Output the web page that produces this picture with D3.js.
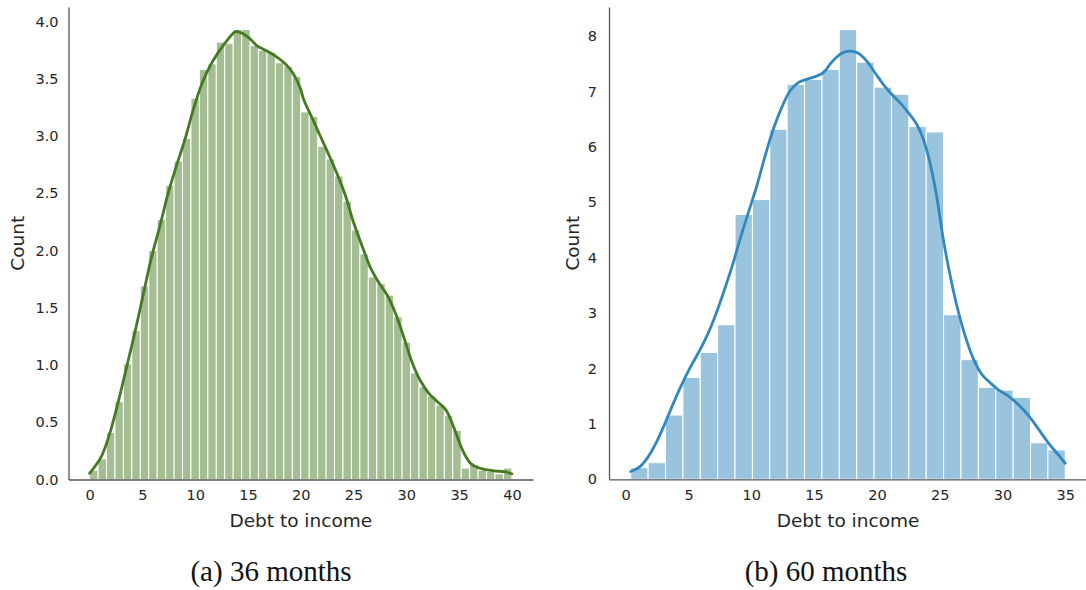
<!DOCTYPE html>
<html>
<head>
<meta charset="utf-8">
<script src="https://cdn.jsdelivr.net/npm/d3@7"></script>
<style>
  html, body { margin: 0; padding: 0; background: #fff; }
  svg { display: block; }
  .tick text { font-family: "DejaVu Sans", sans-serif; font-size: 14.5px; fill: #262626; }
  .axis-title { font-family: "DejaVu Sans", sans-serif; font-size: 18.5px; fill: #262626; }
  .caption { font-family: "Liberation Serif", "DejaVu Serif", serif; font-size: 29px; fill: #111; }
</style>
</head>
<body>
<svg id="fig" width="1086" height="590"></svg>
<script>
// ---- 36-month loans: histogram (50 bins of width 0.8 starting at 0) ----
const binStart36 = 0;
const binWidth36 = 0.8;
const counts36 = [
  0.08, 0.18, 0.41, 0.68, 1.01, 1.30, 1.69, 2.00, 2.27, 2.57,
  2.78, 2.98, 3.33, 3.58, 3.63, 3.82, 3.81, 3.93, 3.93, 3.79,
  3.75, 3.73, 3.64, 3.61, 3.52, 3.21, 3.17, 2.91, 2.80, 2.65,
  2.43, 2.18, 1.97, 1.77, 1.71, 1.61, 1.42, 1.20, 0.93, 0.81,
  0.73, 0.65, 0.56, 0.43, 0.10, 0.13, 0.08, 0.07, 0.05, 0.10
];
// density curve, scaled to counts
const kdeX36 = [0.00, 1.11, 1.90, 2.69, 3.48, 4.28, 5.07, 5.86, 6.65, 7.44,
  8.23, 9.03, 9.82, 10.61, 11.40, 12.19, 12.99, 13.78, 14.10, 15.07,
  15.83, 16.63, 17.58, 18.53, 19.32, 19.95, 20.27, 21.06, 21.85, 22.64,
  23.44, 24.23, 25.02, 25.81, 26.60, 27.39, 28.19, 28.98, 29.77, 30.56,
  31.35, 32.15, 32.94, 33.73, 34.52, 35.31, 36.10, 36.90, 37.69, 38.48,
  39.27, 40.00];
const kdeY36 = [0.054, 0.20, 0.40, 0.67, 0.97, 1.28, 1.61, 1.94, 2.21, 2.50,
  2.74, 2.97, 3.23, 3.45, 3.61, 3.73, 3.83, 3.91, 3.91, 3.86,
  3.79, 3.75, 3.70, 3.63, 3.54, 3.42, 3.32, 3.16, 3.00, 2.84,
  2.67, 2.48, 2.24, 2.04, 1.85, 1.72, 1.61, 1.45, 1.24, 1.02,
  0.86, 0.75, 0.68, 0.61, 0.45, 0.26, 0.14, 0.10, 0.083, 0.074,
  0.068, 0.05];
const xTicks36 = [0, 5, 10, 15, 20, 25, 30, 35, 40];
const yTicks36 = [0, 0.5, 1.0, 1.5, 2.0, 2.5, 3.0, 3.5, 4.0];

// ---- 60-month loans: histogram (25 bins of width 1.384 starting at 0.4) ----
const binStart60 = 0.4;
const binWidth60 = 1.384;
const counts60 = [
  0.21, 0.30, 1.16, 1.84, 2.29, 2.79, 4.78, 5.05, 6.32, 7.13,
  7.22, 7.40, 8.12, 7.53, 7.08, 6.95, 6.37, 6.27, 2.97, 2.16,
  1.66, 1.61, 1.48, 0.66, 0.53
];
const kdeX60 = [0.40, 1.14, 1.80, 2.47, 3.13, 3.79, 4.46, 5.12, 5.78, 6.45,
  7.11, 7.77, 8.44, 9.10, 9.76, 10.43, 11.09, 11.75, 12.42, 13.08,
  13.74, 14.41, 15.08, 15.74, 16.40, 17.20, 17.86, 18.52, 19.19, 19.85,
  20.51, 21.18, 21.84, 22.50, 23.17, 23.70, 24.23, 24.76, 25.29, 25.85,
  26.38, 27.04, 27.71, 28.37, 29.04, 29.70, 30.36, 31.02, 31.69, 32.35,
  33.01, 33.68, 34.34, 35.00];
const kdeY60 = [0.14, 0.23, 0.41, 0.68, 1.01, 1.37, 1.71, 2.01, 2.28, 2.58,
  2.94, 3.36, 3.82, 4.33, 4.81, 5.29, 5.83, 6.32, 6.71, 7.01,
  7.16, 7.22, 7.27, 7.34, 7.53, 7.69, 7.73, 7.69, 7.55, 7.34,
  7.13, 6.95, 6.80, 6.62, 6.41, 6.14, 5.71, 5.11, 4.33, 3.66,
  3.12, 2.58, 2.16, 1.89, 1.74, 1.61, 1.52, 1.40, 1.25, 1.07,
  0.86, 0.65, 0.47, 0.29];
const xTicks60 = [0, 5, 10, 15, 20, 25, 30, 35];
const yTicks60 = [0, 1, 2, 3, 4, 5, 6, 7, 8];

const captions = ["(a) 36 months", "(b) 60 months"];
const xTitle = "Debt to income";
const yTitle = "Count";

const svg = d3.select("#fig");

function panel(cfg) {
  const g = svg.append("g");
  const lo = cfg.binStart;
  const hi = cfg.binStart + cfg.binWidth * cfg.counts.length;
  const pad = (hi - lo) * 0.05;
  const x = d3.scaleLinear().domain([lo - pad, hi + pad]).range([cfg.left, cfg.right]);
  const y = d3.scaleLinear().domain([0, d3.max(cfg.counts) * 1.05]).range([cfg.bottom, cfg.top]);

  // histogram bars
  g.append("g").selectAll("rect")
    .data(cfg.counts)
    .join("rect")
    .attr("x", (d, i) => x(lo + i * cfg.binWidth))
    .attr("width", (d, i) => x(lo + (i + 1) * cfg.binWidth) - x(lo + i * cfg.binWidth))
    .attr("y", d => y(d))
    .attr("height", d => y(0) - y(d))
    .attr("fill", cfg.barColor)
    .attr("stroke", "#ffffff")
    .attr("stroke-width", 1);

  // density curve
  const pts = cfg.kdeX.map((v, i) => [v, cfg.kdeY[i]]);
  g.append("path")
    .datum(pts)
    .attr("fill", "none")
    .attr("stroke", cfg.lineColor)
    .attr("stroke-width", 2.8)
    .attr("stroke-linecap", "round")
    .attr("stroke-linejoin", "round")
    .attr("d", d3.line().x(d => x(d[0])).y(d => y(d[1])).curve(d3.curveCatmullRom.alpha(0.5)));

  // axes (left and bottom spines only)
  const xAxis = d3.axisBottom(x).tickValues(cfg.xTicks).tickSize(0).tickPadding(10)
    .tickFormat(d3.format("d"));
  const yAxis = d3.axisLeft(y).tickValues(cfg.yTicks).tickSize(0).tickPadding(cfg.yPad)
    .tickFormat(cfg.yFormat);
  const gx = g.append("g").attr("transform", `translate(0,${cfg.bottom})`).call(xAxis);
  const gy = g.append("g").attr("transform", `translate(${cfg.left},0)`).call(yAxis);
  [gx, gy].forEach(a => a.select(".domain").attr("stroke", "#555").attr("stroke-width", 1.3));

  g.append("text").attr("class", "axis-title")
    .attr("x", (cfg.left + cfg.right) / 2).attr("y", 527)
    .attr("text-anchor", "middle").text(xTitle);
  g.append("text").attr("class", "axis-title")
    .attr("transform", `translate(${cfg.yTitleX},${(cfg.top + cfg.bottom) / 2}) rotate(-90)`)
    .attr("text-anchor", "middle").text(yTitle);

  g.append("text").attr("class", "caption")
    .attr("x", cfg.captionX).attr("y", 581)
    .attr("text-anchor", "middle").text(cfg.caption);
}

panel({
  binStart: binStart36, binWidth: binWidth36, counts: counts36,
  kdeX: kdeX36, kdeY: kdeY36, xTicks: xTicks36, yTicks: yTicks36,
  yFormat: d3.format(".1f"), yPad: 10,
  left: 68.5, right: 533, top: 7, bottom: 479.5,
  barColor: "#a4bd92", lineColor: "#437a22",
  yTitleX: 24, captionX: 271, caption: captions[0]
});

panel({
  binStart: binStart60, binWidth: binWidth60, counts: counts60,
  kdeX: kdeX60, kdeY: kdeY60, xTicks: xTicks60, yTicks: yTicks60,
  yFormat: d3.format("d"), yPad: 12,
  left: 609, right: 1087, top: 7, bottom: 479.3,
  barColor: "#9ac4de", lineColor: "#3288bd",
  yTitleX: 579, captionX: 826, caption: captions[1]
});
</script>
</body>
</html>
